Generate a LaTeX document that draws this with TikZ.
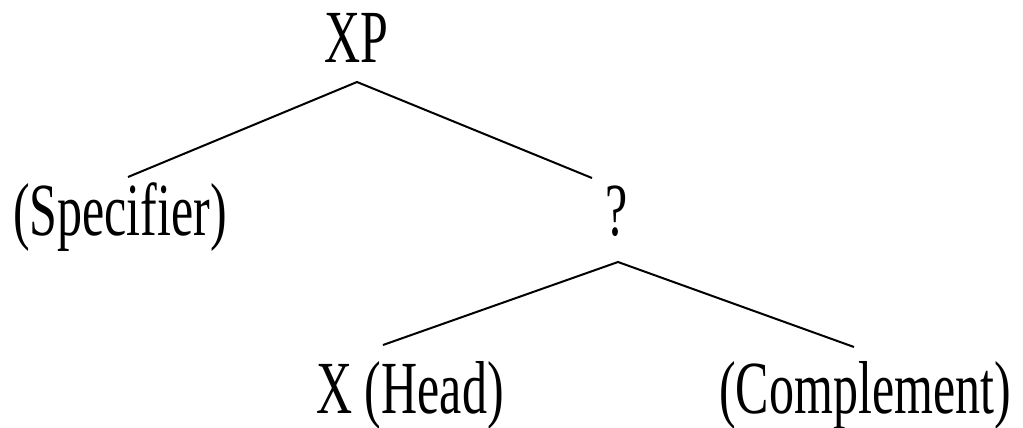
\documentclass[tikz,border=0pt]{standalone}
\usepackage{fontspec}
\setmainfont{Liberation Serif}
\usetikzlibrary{positioning}

\newcommand{\tall}[1]{\scalebox{1}[1.5]{#1}}

\begin{document}
\begin{tikzpicture}[x=0.5pt, y=-0.5pt,
    word/.style={anchor=base, inner sep=0pt, font=\fontsize{25}{30}\selectfont},
    branch/.style={line width=1pt}]
  \useasboundingbox (0,0) rectangle (1023,428);
  % labels
  \node[word] (xp)   at (356,62)  {\tall{XP}};
  \node[word] (spec) at (120,235) {\tall{(Specifier)}};
  \node[word] (bar)  at (617,235) {\tall{?}};
  \node[word] (head) at (410,413) {\tall{X (Head)}};
  \node[word] (comp) at (865,413) {\tall{(Complement)}};
  % branch points
  \coordinate (xp-foot)   at (357,82);
  \coordinate (spec-top)  at (128,177);
  \coordinate (bar-top)   at (592,178);
  \coordinate (bar-foot)  at (618,262);
  \coordinate (head-top)  at (383,345);
  \coordinate (comp-top)  at (854,347);
  \draw[branch] (spec-top) -- (xp-foot) -- (bar-top);
  \draw[branch] (head-top) -- (bar-foot) -- (comp-top);
\end{tikzpicture}
\end{document}
